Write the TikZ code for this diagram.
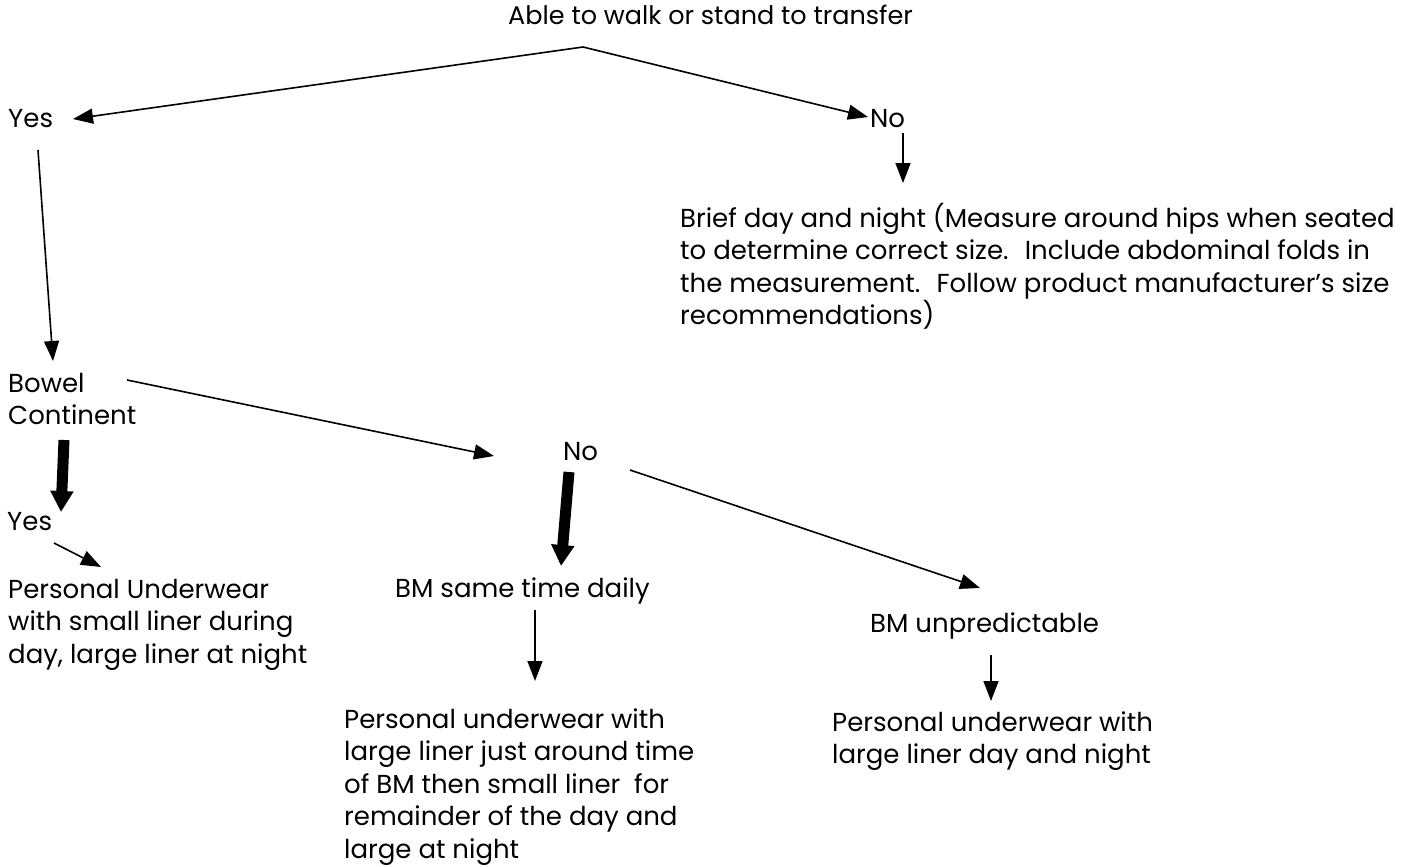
\documentclass[tikz,border=0pt]{standalone}
\usepackage{fontspec}
\setmainfont{Poppins}
\usetikzlibrary{arrows.meta}
\begin{document}
\begin{tikzpicture}[x=1pt,y=-1pt,
  lbl/.style={inner sep=0pt, anchor=base west, align=left, font=\fontsize{26}{32.5}\selectfont},
  arr/.style={line width=1.6pt, -{Triangle[length=20pt 0 0,width=15pt 0 0]}},
  fat/.style={line width=11pt, -{Triangle[length=21pt 0 0,width=22pt 0 0]}}]
\useasboundingbox (0,0) rectangle (1406,867);
% nodes (multi-line nodes are placed at the baseline of their last line)
\node[lbl, font=\fontsize{25.5}{30}\selectfont] (title) at (508,25) {Able to walk or stand to transfer};
\coordinate (apex) at (583,47);
\node[lbl] (yes1) at (8,128) {Yes};
\node[lbl] (no1) at (870,128) {No};
\node[lbl] (brief) at (680,324.5) {Brief day and night (Measure around hips when seated\\to determine correct size.~ Include abdominal folds in\\the measurement.~ Follow product manufacturer’s size\\recommendations)};
\node[lbl] (bowel) at (8,424.5) {Bowel\\Continent};
\node[lbl] (yes2) at (7,530) {Yes};
\node[lbl] (pu) at (8,663) {Personal Underwear\\with small liner during\\day, large liner at night};
\node[lbl] (nomid) at (563,460) {No};
\node[lbl] (bms) at (395,597) {BM same time daily};
\node[lbl] (bmu) at (870,632) {BM unpredictable};
\node[lbl] (pul) at (344,858) {Personal underwear with\\large liner just around time\\of BM then small liner~ for\\remainder of the day and\\large at night};
\node[lbl] (pur) at (832,763.5) {Personal underwear with\\large liner day and night};
% connector ends
\coordinate (yes1tip) at (73,119);
\coordinate (no1tip) at (868,117);
\coordinate (no1a) at (903,133);
\coordinate (brieftip) at (903,183);
\coordinate (yes1b) at (38,150);
\coordinate (boweltip) at (53,361);
\coordinate (bowelr) at (127,380);
\coordinate (nomidtip) at (494,456);
\coordinate (bowelb) at (64,440);
\coordinate (yes2tip) at (61,512);
\coordinate (yes2b) at (54,543);
\coordinate (putip) at (101,567);
\coordinate (nomidb) at (569,472);
\coordinate (bmstip) at (561,566);
\coordinate (nomidr) at (630,470);
\coordinate (bmutip) at (980,588);
\coordinate (bmsb) at (535,610);
\coordinate (pultip) at (535,681);
\coordinate (bmub) at (991,655);
\coordinate (purtip) at (991,701);
% connectors
\draw[arr] (apex) -- (yes1tip);
\draw[arr] (apex) -- (no1tip);
\draw[arr] (no1a) -- (brieftip);
\draw[arr] (yes1b) -- (boweltip);
\draw[arr] (bowelr) -- (nomidtip);
\draw[fat] (bowelb) -- (yes2tip);
\draw[arr] (yes2b) -- (putip);
\draw[fat] (nomidb) -- (bmstip);
\draw[arr] (nomidr) -- (bmutip);
\draw[arr] (bmsb) -- (pultip);
\draw[arr] (bmub) -- (purtip);
\end{tikzpicture}
\end{document}
